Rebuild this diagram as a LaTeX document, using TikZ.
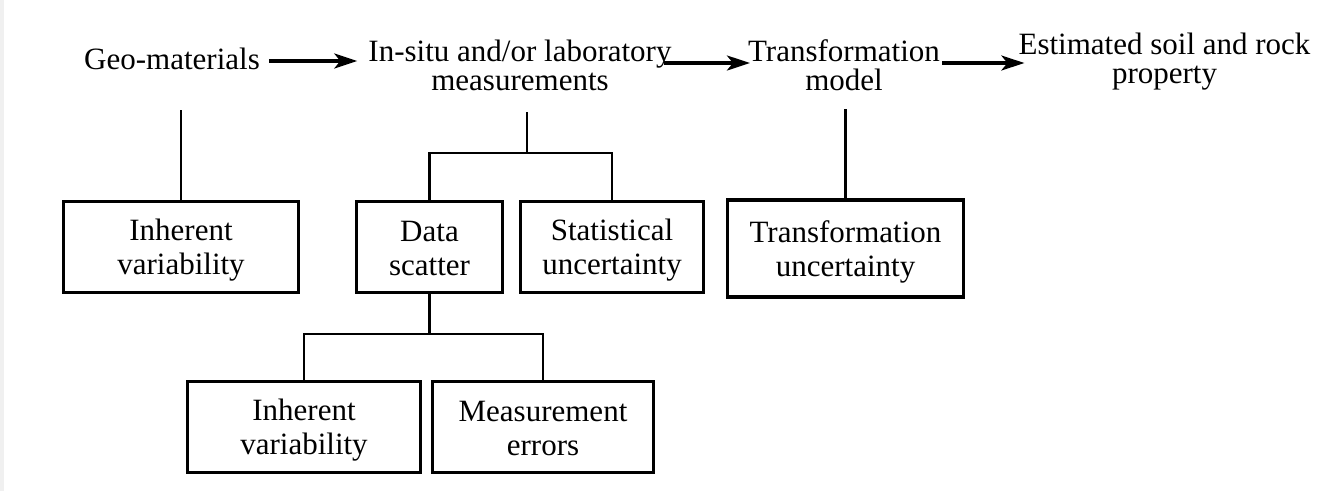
\documentclass[tikz,border=0pt]{standalone}
\usepackage{fontspec}
\setmainfont{Liberation Serif}
\usetikzlibrary{arrows.meta}
\newcommand{\bxs}{\rule[-6pt]{0pt}{34pt}}
\begin{document}
\begin{tikzpicture}[x=1pt,y=-1pt,
  lbl/.style={font=\fontsize{31}{29}\selectfont, align=center, inner sep=0pt},
  box/.style={draw, line width=3.2pt, font=\fontsize{31}{34}\selectfont, align=center, inner sep=0pt, minimum height=91pt},
  conn/.style={line width=2.6pt},
  arr/.style={line width=3.2pt, -{Stealth[length=23pt,width=15pt,inset=6pt]}}]
\useasboundingbox (0,0) rectangle (1342,491);
\fill[gray!12] (0,0) rectangle (4,491);
% top labels
\node[lbl, anchor=base] (geo) at (172,69) {Geo-materials};
\node[lbl] (meas) at (520,65) {In-situ and/or laboratory\\measurements};
\node[lbl] (tm) at (844,65) {Transformation\\model};
\node[lbl] (est) at (1164.5,62) {Estimated soil and rock\\property};
% boxes
\node[box, minimum width=235pt] (iv1) at (181,247) {\bxs Inherent\\\bxs variability};
\node[box, minimum width=146pt] (data) at (429.5,247) {\bxs Data\\\bxs scatter};
\node[box, minimum width=183pt] (stat) at (612,247) {\bxs Statistical\\\bxs uncertainty};
\node[box, minimum width=236pt, minimum height=97pt] (tu) at (845.5,248.5) {\bxs Transformation\\\bxs uncertainty};
\node[box, line width=2.8pt, minimum width=233pt] (iv2) at (304,427) {\bxs Inherent\\\bxs variability};
\node[box, line width=2.8pt, minimum width=221pt] (me) at (543,427) {\bxs Measurement\\\bxs errors};
% arrows
\draw[arr] ([xshift=9pt,yshift=-2.6pt]geo.east) -- ([xshift=-11pt,yshift=-2.6pt]geo.east -| meas.west);
\draw[arr] ([xshift=-8pt,yshift=2pt]meas.east) -- ([xshift=2pt,yshift=2pt]meas.east -| tm.west);
\draw[arr] ([xshift=2pt,yshift=2pt]tm.east) -- ([xshift=6pt,yshift=2pt]tm.east -| est.west);
% connectors
\coordinate (jm) at (527,153);
\draw[conn] (iv1.north) -- ++(0,-90);
\draw[conn] (jm) -- ++(0,-41);
\draw[conn] (data.north) |- (jm) -| (stat.north);
\draw[conn] (tu.north) -- ++(0,-89);
\draw[conn] (data.south) -- ++(0,40) coordinate (jd);
\draw[conn] (iv2.north) |- (jd) -| (me.north);
\end{tikzpicture}
\end{document}
